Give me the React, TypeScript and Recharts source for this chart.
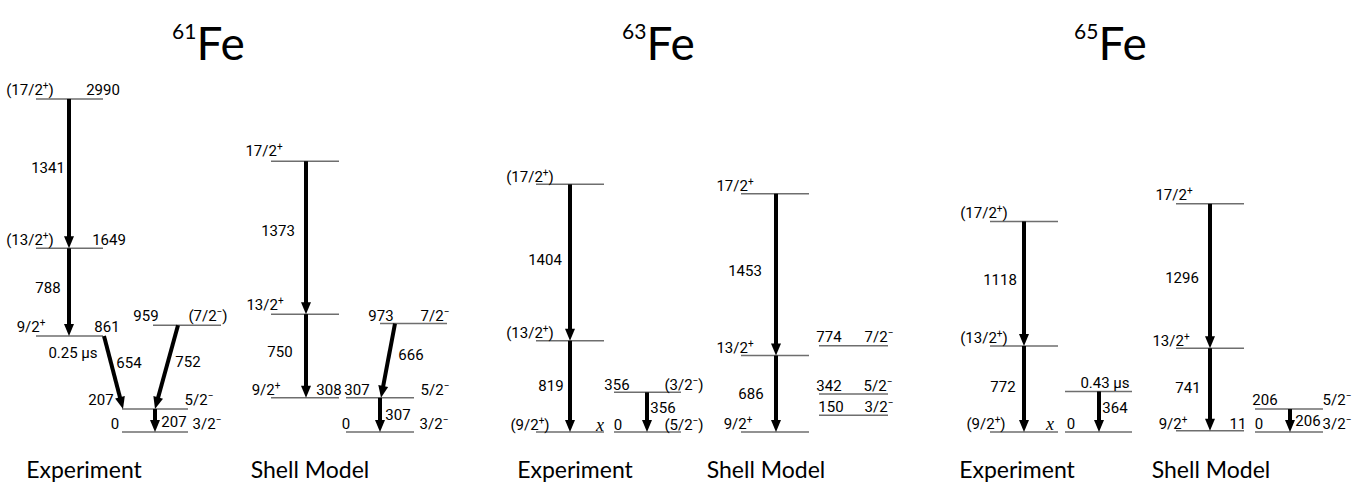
import { ComposedChart, XAxis, YAxis, ReferenceLine, Scatter } from 'recharts';

// 能级 (keV) / 自旋宇称 / 标注文字 / 所在列
type Level = { e: number; spin: string; tag: string; col: string };
// γ 跃迁: 起始能级 -> 终止能级, γ 能量
type Gamma = { from: number; to: number; eg: number };

// ---------- 61Fe ----------
const FE61_EXP_LEVELS: Level[] = [
  { e: 2990, spin: '(17/2+)', tag: '2990', col: 'A' },
  { e: 1649, spin: '(13/2+)', tag: '1649', col: 'A' },
  { e: 861, spin: '9/2+', tag: '861', col: 'A' },
  { e: 959, spin: '(7/2−)', tag: '959', col: 'C' },
  { e: 207, spin: '5/2−', tag: '207', col: 'B' },
  { e: 0, spin: '3/2−', tag: '0', col: 'B' },
];
const FE61_EXP_GAMMAS: Gamma[] = [
  { from: 2990, to: 1649, eg: 1341 },
  { from: 1649, to: 861, eg: 788 },
  { from: 861, to: 207, eg: 654 },
  { from: 959, to: 207, eg: 752 },
  { from: 207, to: 0, eg: 207 },
];
const FE61_SM_LEVELS: Level[] = [
  { e: 2431, spin: '17/2+', tag: '', col: 'A' },
  { e: 1058, spin: '13/2+', tag: '', col: 'A' },
  { e: 308, spin: '9/2+', tag: '308', col: 'A' },
  { e: 973, spin: '7/2−', tag: '973', col: 'C' },
  { e: 307, spin: '5/2−', tag: '307', col: 'B' },
  { e: 0, spin: '3/2−', tag: '0', col: 'B' },
];
const FE61_SM_GAMMAS: Gamma[] = [
  { from: 2431, to: 1058, eg: 1373 },
  { from: 1058, to: 308, eg: 750 },
  { from: 973, to: 307, eg: 666 },
  { from: 307, to: 0, eg: 307 },
];

// ---------- 63Fe ----------
const FE63_EXP_LEVELS: Level[] = [
  { e: 2223, spin: '(17/2+)', tag: '', col: 'A' },
  { e: 819, spin: '(13/2+)', tag: '', col: 'A' },
  { e: 0, spin: '(9/2+)', tag: 'x', col: 'A' },
  { e: 356, spin: '(3/2−)', tag: '356', col: 'B' },
  { e: 0, spin: '(5/2−)', tag: '0', col: 'B' },
];
const FE63_EXP_GAMMAS: Gamma[] = [
  { from: 2223, to: 819, eg: 1404 },
  { from: 819, to: 0, eg: 819 },
  { from: 356, to: 0, eg: 356 },
];
const FE63_SM_LEVELS: Level[] = [
  { e: 2139, spin: '17/2+', tag: '', col: 'A' },
  { e: 686, spin: '13/2+', tag: '', col: 'A' },
  { e: 0, spin: '9/2+', tag: '', col: 'A' },
  { e: 774, spin: '7/2−', tag: '774', col: 'B' },
  { e: 342, spin: '5/2−', tag: '342', col: 'B' },
  { e: 150, spin: '3/2−', tag: '150', col: 'B' },
];
const FE63_SM_GAMMAS: Gamma[] = [
  { from: 2139, to: 686, eg: 1453 },
  { from: 686, to: 0, eg: 686 },
];

// ---------- 65Fe ----------
const FE65_EXP_LEVELS: Level[] = [
  { e: 1890, spin: '(17/2+)', tag: '', col: 'A' },
  { e: 772, spin: '(13/2+)', tag: '', col: 'A' },
  { e: 0, spin: '(9/2+)', tag: 'x', col: 'A' },
  { e: 364, spin: '', tag: '0.43 μs', col: 'B' },
  { e: 0, spin: '', tag: '0', col: 'B' },
];
const FE65_EXP_GAMMAS: Gamma[] = [
  { from: 1890, to: 772, eg: 1118 },
  { from: 772, to: 0, eg: 772 },
  { from: 364, to: 0, eg: 364 },
];
const FE65_SM_LEVELS: Level[] = [
  { e: 2048, spin: '17/2+', tag: '', col: 'A' },
  { e: 752, spin: '13/2+', tag: '', col: 'A' },
  { e: 11, spin: '9/2+', tag: '11', col: 'A' },
  { e: 206, spin: '5/2−', tag: '206', col: 'B' },
  { e: 0, spin: '3/2−', tag: '0', col: 'B' },
];
const FE65_SM_GAMMAS: Gamma[] = [
  { from: 2048, to: 752, eg: 1296 },
  { from: 752, to: 11, eg: 741 },
  { from: 206, to: 0, eg: 206 },
];

// 同核异能态寿命
const FE61_NOTES = [{ text: '0.25 μs', e: 861 }];

const TITLES = ['61', '63', '65'];
const COLUMN_NAMES = ['Experiment', 'Shell Model'];

// ---------- 布局 (像素) ----------
const W = 1366;
const H = 494;
const GROUND_PX = 432;
const PX_PER_KEV = 0.1114;
const E_MAX = GROUND_PX / PX_PER_KEV;
const E_MIN = -(H - GROUND_PX) / PX_PER_KEV;

type Layout = {
  cols: Record<string, [number, number]>;
  // 每个能级: 自旋 x, 标注 x, 文字相对能级线的偏移
  text: [number, number, number][];
  // 每个跃迁: 上端 x, 下端 x, 标签 x, 标签偏移
  arrows: [number, number, number, number][];
};

const SCHEMES: { levels: Level[]; gammas: Gamma[]; layout: Layout }[] = [
  {
    levels: FE61_EXP_LEVELS,
    gammas: FE61_EXP_GAMMAS,
    layout: {
      cols: { A: [36, 103], B: [122, 188], C: [153, 221] },
      text: [[30, 103, -9], [30, 109, -8], [31, 107, -9], [208, 146, -9], [199, 101, -9], [207, 115, -8]],
      arrows: [[69, 69, 48, -6], [69, 69, 48, -4], [104, 123, 129, -10], [178, 155, 188, -5], [155, 155, 174, 2]],
    },
  },
  {
    levels: FE61_SM_LEVELS,
    gammas: FE61_SM_GAMMAS,
    layout: {
      cols: { A: [271, 339], B: [346, 414], C: [380, 447] },
      text: [[264, 0, -10], [265, 0, -9], [266, 329, -8], [435, 381, -8], [435, 357, -8], [434, 346, -8]],
      arrows: [[306, 306, 278, -7], [306, 306, 280, -4], [395, 381, 411, -6], [380, 380, 398, 0]],
    },
  },
  {
    levels: FE63_EXP_LEVELS,
    gammas: FE63_EXP_GAMMAS,
    layout: {
      cols: { A: [536, 604], B: [614, 681] },
      text: [[530, 0, -7], [530, 0, -8], [530, 600, -7], [684, 617, -7], [684, 618, -7]],
      arrows: [[570, 570, 545, -3], [570, 570, 551, 0], [647, 647, 663, -4]],
    },
  },
  {
    levels: FE63_SM_LEVELS,
    gammas: FE63_SM_GAMMAS,
    layout: {
      cols: { A: [741, 809], B: [819, 888] },
      text: [[735, 0, -8], [735, 0, -8], [738, 0, -8], [879, 829, -9], [878, 829, -8], [879, 831, -8]],
      arrows: [[776, 776, 745, -4], [776, 776, 751, 0]],
    },
  },
  {
    levels: FE65_EXP_LEVELS,
    gammas: FE65_EXP_GAMMAS,
    layout: {
      cols: { A: [990, 1058], B: [1065, 1132] },
      text: [[984, 0, -8], [984, 0, -8], [986, 1050, -8], [0, 1105, -8], [0, 1071, -8]],
      arrows: [[1024, 1024, 1000, -4], [1024, 1024, 1003, -2], [1099, 1099, 1115, -4]],
    },
  },
  {
    levels: FE65_SM_LEVELS,
    gammas: FE65_SM_GAMMAS,
    layout: {
      cols: { A: [1176, 1244], B: [1255, 1323] },
      text: [[1174, 0, -9], [1171, 0, -7], [1173, 1238, -7], [1337, 1265, -9], [1337, 1259, -8]],
      arrows: [[1210, 1210, 1182, 2], [1210, 1210, 1188, -2], [1290, 1290, 1308, 0]],
    },
  },
];
const NOTE_POS = [[73, 17]];
const TITLE_X = [172, 622, 1074];
const COLUMN_NAME_X = [84, 310, 575, 766, 1017, 1211];

const SMALL_FONT = "Roboto, 'Noto Sans', sans-serif";
const BIG_FONT = "Lato, 'Open Sans', sans-serif";

type TextPoint = { x: number; y: number; text: string; dy: number; italic?: boolean };

function buildTextPoints(): TextPoint[] {
  const pts: TextPoint[] = [];
  SCHEMES.forEach(({ levels, gammas, layout }) => {
    levels.forEach((lv, i) => {
      const [sx, tx, dy] = layout.text[i];
      if (lv.spin) pts.push({ x: sx, y: lv.e, text: lv.spin, dy });
      if (lv.tag) pts.push({ x: tx, y: lv.e, text: lv.tag, dy, italic: lv.tag === 'x' });
    });
    gammas.forEach((g, i) => {
      const [, , lx, ldy] = layout.arrows[i];
      pts.push({ x: lx, y: (g.from + g.to) / 2, text: String(g.eg), dy: ldy });
    });
  });
  FE61_NOTES.forEach((n, i) => {
    pts.push({ x: NOTE_POS[i][0], y: n.e, text: n.text, dy: NOTE_POS[i][1] });
  });
  return pts;
}

// 自旋末尾的 +/− 画成上标
function renderSpin(text: string) {
  const m = text.match(/^(.*\d)([+−])(\)?)$/);
  if (!m) return text;
  return (
    <>
      <tspan>{m[1]}</tspan>
      <tspan dy={-5} fontSize={10}>{m[2]}</tspan>
      <tspan dy={5}>{m[3]}</tspan>
    </>
  );
}

function TextShape(props: any) {
  const { cx, cy, payload } = props;
  const p = payload as TextPoint;
  if (p.italic) {
    return (
      <text x={cx} y={cy + p.dy} textAnchor="middle" dominantBaseline="central" fontSize={18} fontStyle="italic" fontFamily="'Liberation Serif', serif" fill="#000">
        {p.text}
      </text>
    );
  }
  return (
    <text x={cx} y={cy + p.dy} textAnchor="middle" dominantBaseline="central" fontSize={15} fontFamily={SMALL_FONT} fill="#000">
      {renderSpin(p.text)}
    </text>
  );
}

function ArrowShape(props: any) {
  const { x1, y1, x2, y2 } = props;
  const dx = x2 - x1;
  const dy = y2 - y1;
  const len = Math.hypot(dx, dy) || 1;
  const ux = dx / len;
  const uy = dy / len;
  const hl = 12;
  const hw = 5;
  const bx = x2 - ux * hl;
  const by = y2 - uy * hl;
  const px = -uy;
  const py = ux;
  return (
    <g>
      <line x1={x1} y1={y1} x2={bx + ux * 2} y2={by + uy * 2} stroke="#000" strokeWidth={4} />
      <polygon points={`${x2},${y2} ${bx + px * hw},${by + py * hw} ${bx - px * hw},${by - py * hw}`} fill="#000" />
    </g>
  );
}

export default function App() {
  const textPoints = buildTextPoints();

  return (
    <div style={{ position: 'absolute', left: 0, top: 0, width: W, height: H, background: '#fff' }}>
      <ComposedChart width={W} height={H} margin={{ top: 0, right: 0, bottom: 0, left: 0 }}>
        <XAxis type="number" dataKey="x" domain={[0, W]} allowDataOverflow hide />
        <YAxis type="number" dataKey="y" domain={[E_MIN, E_MAX]} allowDataOverflow hide />
        {SCHEMES.map(({ levels, layout }, si) =>
          levels.map((lv, i) => {
            const [xa, xb] = layout.cols[lv.col];
            return (
              <ReferenceLine
                key={`lv-${si}-${i}`}
                segment={[{ x: xa, y: lv.e }, { x: xb, y: lv.e }]}
                stroke="#6e6e6e"
                strokeWidth={1.5}
                ifOverflow="visible"
              />
            );
          })
        )}
        {SCHEMES.map(({ gammas, layout }, si) =>
          gammas.map((g, i) => {
            const [xt, xbot] = layout.arrows[i];
            return (
              <ReferenceLine
                key={`g-${si}-${i}`}
                segment={[{ x: xt, y: g.from }, { x: xbot, y: g.to }]}
                ifOverflow="visible"
                shape={(p: any) => <ArrowShape {...p} />}
              />
            );
          })
        )}
        <Scatter data={textPoints} isAnimationActive={false} shape={(p: any) => <TextShape {...p} />} />
      </ComposedChart>
      <svg width={W} height={H} style={{ position: 'absolute', left: 0, top: 0, pointerEvents: 'none' }}>
        {TITLES.map((t, i) => (
          <text key={t} x={TITLE_X[i]} y={60} fontFamily={BIG_FONT} fill="#000">
            <tspan fontSize={21} dy={-21}>{t}</tspan>
            <tspan fontSize={46} dy={21}>Fe</tspan>
          </text>
        ))}
        {COLUMN_NAME_X.map((x, i) => (
          <text key={i} x={x} y={478} textAnchor="middle" fontFamily={BIG_FONT} fontSize={23} fill="#000">
            {COLUMN_NAMES[i % 2]}
          </text>
        ))}
      </svg>
    </div>
  );
}
